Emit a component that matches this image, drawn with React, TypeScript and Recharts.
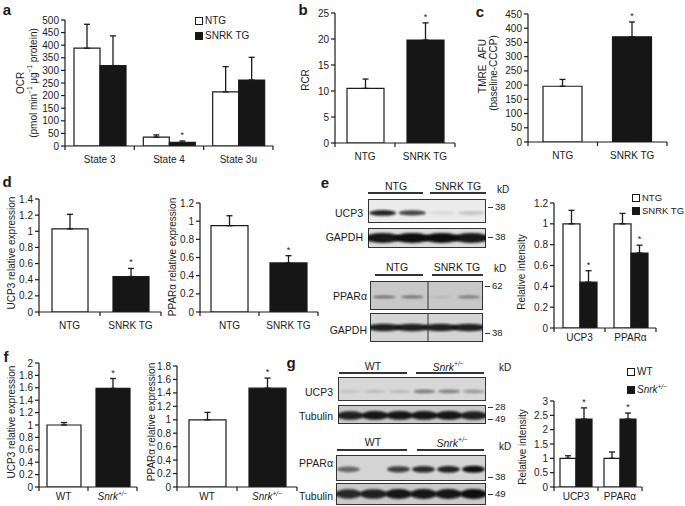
import React from 'react'
import { BarChart, Bar, XAxis, YAxis, ErrorBar, Cell, LabelList } from 'recharts'

const FONT = '"Liberation Sans", Arial, Helvetica, sans-serif'
const INK = '#1a1a1a'
const WHITE = '#ffffff'
const BLACK = '#161616'

// ---- data ----
const stateLabels = ['State 3', 'State 4', 'State 3u']
const ocrNtg = [388, 35, 215]
const ocrNtgErr = [95, 9, 100]
const ocrTg = [319, 14, 262]
const ocrTgErr = [118, 6, 90]
const ocrTgStar = [false, true, false]
const ocrTicks = [0, 50, 100, 150, 200, 250, 300, 350, 400, 450, 500]

const tgLabels = ['NTG', 'SNRK TG']
const rcrValues = [10.5, 19.8]
const rcrErr = [1.8, 3.3]
const rcrTicks = [0, 5, 10, 15, 20, 25]

const tmreValues = [196, 370]
const tmreErr = [24, 52]
const tmreTicks = [0, 50, 100, 150, 200, 250, 300, 350, 400, 450]

const ucp3TgValues = [1.03, 0.44]
const ucp3TgErr = [0.18, 0.1]
const ucp3TgTicks = [0, 0.2, 0.4, 0.6, 0.8, 1, 1.2, 1.4]
const pparTgValues = [0.95, 0.54]
const pparTgErr = [0.11, 0.08]
const pparTgTicks = [0, 0.2, 0.4, 0.6, 0.8, 1, 1.2]

const proteinLabels = ['UCP3', 'PPARα']
const eNtg = [1.0, 1.0]
const eNtgErr = [0.13, 0.1]
const eTg = [0.44, 0.72]
const eTgErr = [0.11, 0.075]
const eTicks = [0, 0.2, 0.4, 0.6, 0.8, 1, 1.2]

const snrkLabels = ['WT', 'Snrk+/-']
const ucp3KoValues = [1.0, 1.59]
const ucp3KoErr = [0.04, 0.16]
const ucp3KoTicks = [0, 0.2, 0.4, 0.6, 0.8, 1, 1.2, 1.4, 1.6, 1.8, 2]
const pparKoValues = [1.0, 1.47]
const pparKoErr = [0.11, 0.15]
const pparKoTicks = [0, 0.2, 0.4, 0.6, 0.8, 1, 1.2, 1.4, 1.6, 1.8]

const gWt = [1.0, 1.0]
const gWtErr = [0.09, 0.22]
const gKo = [2.37, 2.37]
const gKoErr = [0.39, 0.21]
const gTicks = [0, 0.5, 1, 1.5, 2, 2.5, 3]

// blot band intensities per lane
const eUcp3Bands = [0.9, 0.75, 0.08, 0.18]
const eGapdhBands = [0.95, 1, 1, 0.95]
const ePparBands = [0.5, 0.5, 0.1, 0.45]
const eGapdh2Bands = [0.9, 0.9, 0.9, 0.9]
const gUcp3Bands = [0.1, 0.14, 0.14, 0.45, 0.42, 0.3]
const gTubBands = [0.9, 0.95, 0.95, 0.95, 0.95, 0.9]
const gPparBands = [0.55, 0, 0.75, 0.85, 0.9, 1]
const gTub2Bands = [0.85, 0.9, 0.95, 0.95, 0.95, 1]

const MT = 14
const MR = 6
const YW = 34
const XH = 26

type SeriesDef = { values: number[]; errs: number[]; stars: boolean[]; fills: string[] }

function CatLabel({ x, y, label }: { x: number; y: number; label: string }) {
  if (label === 'Snrk+/-') {
    return (
      <text x={x} y={y} textAnchor="middle" fontSize={10} fill={INK} fontFamily={FONT}>
        <tspan fontStyle="italic">Snrk</tspan>
        <tspan fontStyle="italic" fontSize={6.5} dy={-4}>+/−</tspan>
      </text>
    )
  }
  return (
    <text x={x} y={y} textAnchor="middle" fontSize={10} fill={INK} fontFamily={FONT}>
      {label}
    </text>
  )
}

function BarPanel(p: {
  axisX: number
  topY: number
  zeroY: number
  plotW: number
  max: number
  ticks: number[]
  cats: string[]
  series: SeriesDef[]
  barSize: number
  labelGap?: number
}) {
  const plotH = p.zeroY - p.topY
  const pxPer = plotH / p.max
  const band = p.plotW / p.cats.length
  const zeroIn = MT + plotH
  const rows = p.cats.map((c, i) => {
    const r: Record<string, unknown> = { cat: c }
    p.series.forEach((s, k) => {
      r['v' + k] = s.values[i]
      r['e' + k] = [0, s.errs[i]]
      r['s' + k] = s.stars[i] ? s.errs[i] : null
    })
    return r
  })
  const last = p.cats[p.cats.length - 1]

  const renderTick = (tp: any) => {
    const x = tp.x
    const lbl = String(tp.payload.value)
    return (
      <g>
        <line x1={x - band / 2} x2={x - band / 2} y1={zeroIn} y2={zeroIn + 4} stroke={INK} strokeWidth={1.2} />
        {lbl === last && (
          <line x1={x + band / 2} x2={x + band / 2} y1={zeroIn} y2={zeroIn + 4} stroke={INK} strokeWidth={1.2} />
        )}
        <CatLabel x={x} y={zeroIn + (p.labelGap ?? 17)} label={lbl} />
      </g>
    )
  }

  const renderStar = (lp: any) => {
    const { x, y, width, value } = lp
    if (value === null || value === undefined) return null
    return (
      <text x={x + width / 2} y={y - value * pxPer - 3} textAnchor="middle" fontSize={9} fill={INK} fontFamily={FONT}>
        *
      </text>
    )
  }

  return (
    <div style={{ position: 'absolute', left: p.axisX - YW, top: p.topY - MT }}>
      <BarChart
        width={YW + p.plotW + MR}
        height={MT + plotH + XH}
        data={rows}
        margin={{ top: MT, right: MR, bottom: 0, left: 0 }}
        barGap={0}
      >
        <XAxis
          dataKey="cat"
          axisLine={{ stroke: INK, strokeWidth: 1.2 }}
          tickLine={false}
          tick={renderTick}
          interval={0}
          height={XH}
        />
        <YAxis
          type="number"
          domain={[0, p.max]}
          ticks={p.ticks}
          interval={0}
          width={YW}
          tickSize={4}
          axisLine={{ stroke: INK, strokeWidth: 1.2 }}
          tickLine={{ stroke: INK, strokeWidth: 1.2 }}
          tick={{ fontSize: 10, fill: INK, fontFamily: FONT }}
          allowDataOverflow
        />
        {p.series.map((s, k) => (
          <Bar
            key={k}
            dataKey={'v' + k}
            barSize={p.barSize}
            stroke={INK}
            strokeWidth={1.2}
            isAnimationActive={false}
          >
            {rows.map((_, i) => (
              <Cell key={i} fill={s.fills[i]} />
            ))}
            <ErrorBar dataKey={'e' + k} width={3} stroke={INK} strokeWidth={1.3} direction="y" />
            <LabelList dataKey={'s' + k} content={renderStar} />
          </Bar>
        ))}
      </BarChart>
    </div>
  )
}

function T({
  x,
  y,
  children,
  anchor = 'middle',
  size = 10.5,
  bold = false,
}: {
  x: number
  y: number
  children: React.ReactNode
  anchor?: 'start' | 'middle' | 'end'
  size?: number
  bold?: boolean
}) {
  const tx = anchor === 'start' ? '0' : anchor === 'end' ? '-100%' : '-50%'
  return (
    <div
      style={{
        position: 'absolute',
        left: x,
        top: y,
        transform: `translate(${tx}, -50%)`,
        fontSize: size,
        fontWeight: bold ? 700 : 400,
        lineHeight: 1,
        whiteSpace: 'nowrap',
        color: INK,
        fontFamily: FONT,
      }}
    >
      {children}
    </div>
  )
}

function VLabel({ x, y, children }: { x: number; y: number; children: React.ReactNode }) {
  return (
    <div
      style={{
        position: 'absolute',
        left: x,
        top: y,
        transform: 'translate(-50%, -50%) rotate(-90deg)',
        fontSize: 10,
        lineHeight: 1,
        whiteSpace: 'nowrap',
        color: INK,
        fontFamily: FONT,
      }}
    >
      {children}
    </div>
  )
}

function LegendItem({
  x,
  y,
  fill,
  size = 10,
  children,
}: {
  x: number
  y: number
  fill: string
  size?: number
  children: React.ReactNode
}) {
  return (
    <>
      <div
        style={{
          position: 'absolute',
          left: x,
          top: y - 4,
          width: 6,
          height: 6,
          border: `1.5px solid ${INK}`,
          background: fill,
        }}
      />
      <T x={x + 10} y={y} anchor="start" size={size}>
        {children}
      </T>
    </>
  )
}

function HLine({ x1, x2, y }: { x1: number; x2: number; y: number }) {
  return <div style={{ position: 'absolute', left: x1, top: y, width: x2 - x1, height: 1.5, background: '#333' }} />
}

function Marker({ x, y, label }: { x: number; y: number; label: string }) {
  return (
    <>
      <div style={{ position: 'absolute', left: x, top: y, width: 5, height: 1, background: '#333' }} />
      <T x={x + 7} y={y} anchor="start" size={9.5}>
        {label}
      </T>
    </>
  )
}

function Blot({
  id,
  x,
  y,
  w,
  h,
  bg,
  bands,
  bandW,
  bandH,
  bandY = 0.5,
  divider,
}: {
  id: string
  x: number
  y: number
  w: number
  h: number
  bg: string
  bands: number[]
  bandW: number
  bandH: number
  bandY?: number
  divider?: number
}) {
  const lane = w / bands.length
  return (
    <svg style={{ position: 'absolute', left: x, top: y }} width={w} height={h}>
      <defs>
        <filter id={id} x="-50%" y="-100%" width="200%" height="300%">
          <feGaussianBlur stdDeviation="1.1" />
        </filter>
      </defs>
      <rect x={0.5} y={0.5} width={w - 1} height={h - 1} fill={bg} stroke="#333" strokeWidth={1} />
      {bands.map((b, i) =>
        b > 0 ? (
          <ellipse
            key={i}
            cx={lane * (i + 0.5)}
            cy={h * bandY}
            rx={bandW / 2}
            ry={(bandH / 2) * (0.6 + 0.4 * b)}
            fill="#0c0c0c"
            opacity={b}
            filter={`url(#${id})`}
          />
        ) : null
      )}
      {divider !== undefined && <line x1={divider} x2={divider} y1={0} y2={h} stroke="#333" strokeWidth={1} />}
    </svg>
  )
}

const Snrk = () => (
  <span>
    <i>Snrk</i>
    <sup style={{ fontSize: 6.5, fontStyle: 'italic' }}>+/−</sup>
  </span>
)

export default function App() {
  return (
    <div
      style={{
        position: 'relative',
        width: 685,
        height: 506,
        background: '#fff',
        overflow: 'hidden',
        fontFamily: FONT,
      }}
    >
      <style>{'body{margin:0}'}</style>

      {/* panel letters */}
      <T x={7} y={9} size={15} bold>a</T>
      <T x={303} y={9} size={15} bold>b</T>
      <T x={480} y={11} size={15} bold>c</T>
      <T x={7} y={181} size={15} bold>d</T>
      <T x={325} y={182} size={15} bold>e</T>
      <T x={6} y={356} size={15} bold>f</T>
      <T x={291} y={362} size={15} bold>g</T>

      {/* a */}
      <BarPanel
        axisX={65}
        topY={20}
        zeroY={146}
        plotW={208}
        max={500}
        ticks={ocrTicks}
        cats={stateLabels}
        barSize={26}
        labelGap={17}
        series={[
          { values: ocrNtg, errs: ocrNtgErr, stars: [false, false, false], fills: [WHITE, WHITE, WHITE] },
          { values: ocrTg, errs: ocrTgErr, stars: ocrTgStar, fills: [BLACK, BLACK, BLACK] },
        ]}
      />
      <VLabel x={21} y={83}>OCR</VLabel>
      <VLabel x={33} y={83}>
        (pmol min<sup style={{ fontSize: 6.5 }}>−1</sup> μg<sup style={{ fontSize: 6.5 }}>−1</sup> protein)
      </VLabel>
      <LegendItem x={195} y={21} fill={WHITE}>NTG</LegendItem>
      <LegendItem x={195} y={36} fill={BLACK}>SNRK TG</LegendItem>

      {/* b */}
      <BarPanel
        axisX={335}
        topY={13}
        zeroY={143}
        plotW={120}
        max={25}
        ticks={rcrTicks}
        cats={tgLabels}
        barSize={37}
        series={[{ values: rcrValues, errs: rcrErr, stars: [false, true], fills: [WHITE, BLACK] }]}
      />
      <VLabel x={306} y={80}>RCR</VLabel>

      {/* c */}
      <BarPanel
        axisX={528}
        topY={14}
        zeroY={142}
        plotW={139}
        max={450}
        ticks={tmreTicks}
        cats={tgLabels}
        barSize={39}
        series={[{ values: tmreValues, errs: tmreErr, stars: [false, true], fills: [WHITE, BLACK] }]}
      />
      <VLabel x={483} y={66}>TMRE&nbsp;&nbsp;AFU</VLabel>
      <VLabel x={494} y={73}>(baseline-CCCP)</VLabel>

      {/* d */}
      <BarPanel
        axisX={39}
        topY={199}
        zeroY={312}
        plotW={122}
        max={1.4}
        ticks={ucp3TgTicks}
        cats={tgLabels}
        barSize={36}
        series={[{ values: ucp3TgValues, errs: ucp3TgErr, stars: [false, true], fills: [WHITE, BLACK] }]}
      />
      <VLabel x={12} y={253}>UCP3 relative expression</VLabel>
      <BarPanel
        axisX={200}
        topY={203}
        zeroY={312}
        plotW={118}
        max={1.2}
        ticks={pparTgTicks}
        cats={tgLabels}
        barSize={37}
        series={[{ values: pparTgValues, errs: pparTgErr, stars: [false, true], fills: [WHITE, BLACK] }]}
      />
      <VLabel x={173} y={257}>PPARα relative expression</VLabel>

      {/* e blots */}
      <T x={396} y={186}>NTG</T>
      <HLine x1={368} x2={423} y={192} />
      <T x={458} y={186}>SNRK TG</T>
      <HLine x1={430} x2={486} y={192} />
      <T x={503} y={190} size={10}>kD</T>
      <T x={363} y={213} anchor="end">UCP3</T>
      <Blot id="b1" x={368} y={199} w={118} h={24} bg="#ececec" bands={eUcp3Bands} bandW={27} bandH={6} bandY={0.58} />
      <Marker x={488} y={207} label="38" />
      <T x={363} y={237} anchor="end">GAPDH</T>
      <Blot id="b2" x={368} y={228} w={118} h={20} bg="#dcdcdc" bands={eGapdhBands} bandW={36} bandH={10} bandY={0.5} />
      <Marker x={488} y={237} label="38" />

      <T x={397} y={267}>NTG</T>
      <HLine x1={375} x2={423} y={274} />
      <T x={457} y={267}>SNRK TG</T>
      <HLine x1={432} x2={483} y={274} />
      <T x={500} y={269} size={10}>kD</T>
      <T x={367} y={296} anchor="end">PPARα</T>
      <Blot id="b3" x={370} y={281} w={113} h={29} bg="#c8c8c8" bands={ePparBands} bandW={23} bandH={3.5} bandY={0.55} divider={58} />
      <Marker x={485} y={286} label="62" />
      <T x={367} y={330} anchor="end">GAPDH</T>
      <Blot id="b4" x={370} y={313} w={113} h={29} bg="#d4d4d4" bands={eGapdh2Bands} bandW={34} bandH={8} bandY={0.5} divider={58} />
      <Marker x={485} y={333} label="38" />

      {/* e chart */}
      <BarPanel
        axisX={554}
        topY={203}
        zeroY={328}
        plotW={102}
        max={1.2}
        ticks={eTicks}
        cats={proteinLabels}
        barSize={17}
        labelGap={13}
        series={[
          { values: eNtg, errs: eNtgErr, stars: [false, false], fills: [WHITE, WHITE] },
          { values: eTg, errs: eTgErr, stars: [true, true], fills: [BLACK, BLACK] },
        ]}
      />
      <VLabel x={522} y={272}>Relative intensity</VLabel>
      <LegendItem x={632} y={198} fill={WHITE} size={9.5}>NTG</LegendItem>
      <LegendItem x={632} y={211} fill={BLACK} size={9.5}>SNRK TG</LegendItem>

      {/* f */}
      <BarPanel
        axisX={39}
        topY={363}
        zeroY={487}
        plotW={98}
        max={2}
        ticks={ucp3KoTicks}
        cats={snrkLabels}
        barSize={34}
        labelGap={13}
        series={[{ values: ucp3KoValues, errs: ucp3KoErr, stars: [false, true], fills: [WHITE, BLACK] }]}
      />
      <VLabel x={12} y={422}>UCP3 relative expression</VLabel>
      <BarPanel
        axisX={177}
        topY={366}
        zeroY={487}
        plotW={120}
        max={1.8}
        ticks={pparKoTicks}
        cats={snrkLabels}
        barSize={37}
        labelGap={13}
        series={[{ values: pparKoValues, errs: pparKoErr, stars: [false, true], fills: [WHITE, BLACK] }]}
      />
      <VLabel x={152} y={422}>PPARα relative expression</VLabel>

      {/* g blots */}
      <T x={373} y={366}>WT</T>
      <HLine x1={339} x2={407} y={372} />
      <T x={448} y={366}><Snrk /></T>
      <HLine x1={416} x2={484} y={372} />
      <T x={505} y={368} size={10}>kD</T>
      <T x={333} y={392} anchor="end">UCP3</T>
      <Blot id="b5" x={338} y={377} w={148} h={24} bg="#d8d8d8" bands={gUcp3Bands} bandW={22} bandH={5} bandY={0.6} />
      <Marker x={488} y={407} label="28" />
      <T x={333} y={416} anchor="end">Tubulin</T>
      <Blot id="b6" x={338} y={405} w={148} h={19} bg="#c8c8c8" bands={gTubBands} bandW={27} bandH={9} bandY={0.55} />
      <Marker x={488} y={419} label="49" />

      <T x={373} y={442}>WT</T>
      <HLine x1={337} x2={407} y={449} />
      <T x={452} y={442}><Snrk /></T>
      <HLine x1={417} x2={484} y={449} />
      <T x={505} y={447} size={10}>kD</T>
      <T x={333} y={463} anchor="end">PPARα</T>
      <Blot id="b7" x={336} y={455} w={150} h={26} bg="#d4d4d4" bands={gPparBands} bandW={23} bandH={7} bandY={0.55} />
      <Marker x={488} y={477} label="38" />
      <T x={333} y={496} anchor="end">Tubulin</T>
      <Blot id="b8" x={336} y={483} w={150} h={22} bg="#cacaca" bands={gTub2Bands} bandW={27} bandH={10} bandY={0.5} />
      <Marker x={488} y={494} label="49" />

      {/* g chart */}
      <BarPanel
        axisX={554}
        topY={401}
        zeroY={487}
        plotW={88}
        max={3}
        ticks={gTicks}
        cats={proteinLabels}
        barSize={16}
        labelGap={13}
        series={[
          { values: gWt, errs: gWtErr, stars: [false, false], fills: [WHITE, WHITE] },
          { values: gKo, errs: gKoErr, stars: [true, true], fills: [BLACK, BLACK] },
        ]}
      />
      <VLabel x={523} y={447}>Relative intensity</VLabel>
      <LegendItem x={627} y={372} fill={WHITE}>WT</LegendItem>
      <LegendItem x={627} y={390} fill={BLACK}><Snrk /></LegendItem>
    </div>
  )
}
